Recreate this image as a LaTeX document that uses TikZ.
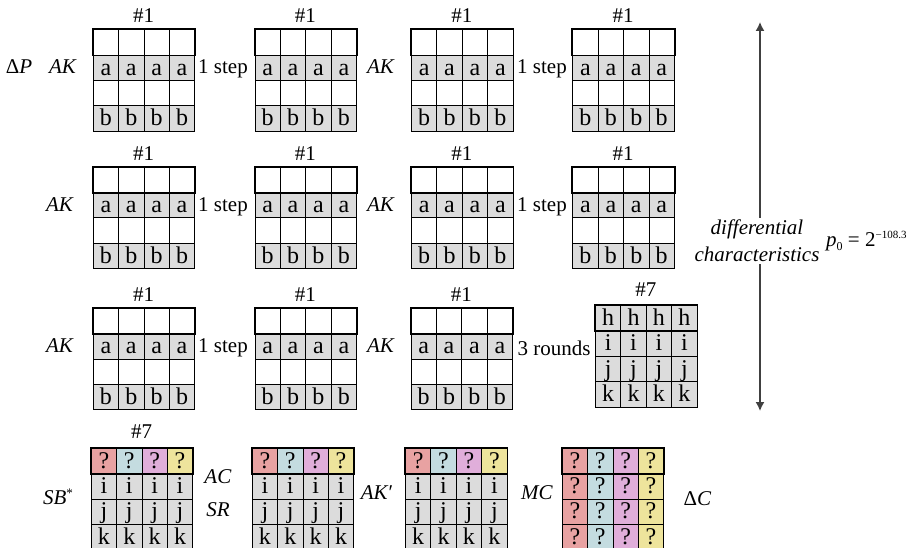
\documentclass[tikz,border=0pt]{standalone}
\usepackage{fontspec}
\setmainfont{Liberation Serif}
\usetikzlibrary{arrows.meta}
\definecolor{grayc}{HTML}{DCDCDC}
\definecolor{redc}{HTML}{E8A2A2}
\definecolor{bluec}{HTML}{C4DCE0}
\definecolor{pinkc}{HTML}{E0AEDA}
\definecolor{yellowc}{HTML}{EEE49C}
\definecolor{arrc}{HTML}{404040}
\tikzset{
  cell/.style={draw=black, line width=0.9pt, minimum width=25.4pt, minimum height=25.4pt,
    inner sep=0pt, anchor=north west, font=\fontsize{24}{24}\selectfont,
    text height=16pt, text depth=1.5pt},
  cw/.style={cell, fill=white},
  cg/.style={cell, fill=grayc},
  lab/.style={font=\fontsize{21}{21}\selectfont, inner sep=0pt},
  toprow/.style={draw=black, line width=1.8pt},
  arr/.style={{Latex[length=9pt,width=9pt]}-{Latex[length=9pt,width=9pt]}, draw=arrc, line width=1.4pt},
}
% grid with empty / a / empty / b rows
\newcommand{\gridAB}[3]{%
  \foreach \c in {0,1,2,3}{%
    \node[cw] (#1-1-\c) at ({#2+25.4*\c},{#3}) {};
    \node[cg] (#1-2-\c) at ({#2+25.4*\c},{#3+25.4}) {a};
    \node[cw] (#1-3-\c) at ({#2+25.4*\c},{#3+50.8}) {};
    \node[cg] (#1-4-\c) at ({#2+25.4*\c},{#3+76.2}) {b};
  }
  \draw[toprow] (#1-1-0.north west) rectangle (#1-1-3.south east);
  \node[lab] (#1-lbl) at ({#2+50.8},{#3-13.5}) {\#1};
}
% grid with h / i / j / k rows
\newcommand{\gridHK}[3]{%
  \foreach \c in {0,1,2,3}{%
    \node[cg] (#1-1-\c) at ({#2+25.4*\c},{#3}) {h};
    \node[cg] (#1-2-\c) at ({#2+25.4*\c},{#3+25.4}) {i};
    \node[cg] (#1-3-\c) at ({#2+25.4*\c},{#3+50.8}) {j};
    \node[cg] (#1-4-\c) at ({#2+25.4*\c},{#3+76.2}) {k};
  }
  \draw[toprow] (#1-1-0.north west) rectangle (#1-1-3.south east);
}
% grid with coloured ? row / i / j / k
\newcommand{\gridQK}[3]{%
  \foreach \c/\col in {0/redc,1/bluec,2/pinkc,3/yellowc}{%
    \node[cell, fill=\col] (#1-1-\c) at ({#2+25.4*\c},{#3}) {?};
    \node[cg] (#1-2-\c) at ({#2+25.4*\c},{#3+25.4}) {i};
    \node[cg] (#1-3-\c) at ({#2+25.4*\c},{#3+50.8}) {j};
    \node[cg] (#1-4-\c) at ({#2+25.4*\c},{#3+76.2}) {k};
  }
  \draw[toprow] (#1-1-0.north west) rectangle (#1-1-3.south east);
}
% grid all ? coloured by column
\newcommand{\gridQQ}[3]{%
  \foreach \c/\col in {0/redc,1/bluec,2/pinkc,3/yellowc}{%
    \foreach \r in {1,2,3,4}{%
      \node[cell, fill=\col] (#1-\r-\c) at ({#2+25.4*\c},{#3+25.4*(\r-1)}) {?};
    }
  }
  \draw[toprow] (#1-1-0.north west) rectangle (#1-1-3.south east);
}
\begin{document}
\begin{tikzpicture}[x=1pt,y=-1pt]
\useasboundingbox (0,0) rectangle (916,548);
% row 1
\gridAB{ga}{92.7}{29.3}
\gridAB{gb}{254.5}{29.3}
\gridAB{gc}{411}{29.3}
\gridAB{gd}{572.3}{29.3}
\node[lab, anchor=base] (dp) at (19,74) {Δ\textit{P}};
\node[lab, anchor=base] (ak1) at (63,74) {\textit{AK}};
\node[lab, anchor=base] (st1) at (223,74) {1 step};
\node[lab, anchor=base] (ak2) at (381,74) {\textit{AK}};
\node[lab, anchor=base] (st2) at (542,74) {1 step};
% row 2
\gridAB{ha}{92.7}{166.7}
\gridAB{hb}{254.5}{166.7}
\gridAB{hc}{411}{166.7}
\gridAB{hd}{572.3}{166.7}
\node[lab, anchor=base] (ak3) at (60,211.5) {\textit{AK}};
\node[lab, anchor=base] (st3) at (223,211.5) {1 step};
\node[lab, anchor=base] (ak4) at (381,211.5) {\textit{AK}};
\node[lab, anchor=base] (st4) at (542,211.5) {1 step};
% row 3
\gridAB{ia}{92.7}{307.7}
\gridAB{ib}{254.5}{307.7}
\gridAB{ic}{410.5}{307.7}
\gridHK{id}{595}{305}
\node[lab] (idlbl) at (645.8,289.5) {\#7};
\node[lab, anchor=base] (ak5) at (60,352.5) {\textit{AK}};
\node[lab, anchor=base] (st5) at (223,352.5) {1 step};
\node[lab, anchor=base] (ak6) at (381,352.5) {\textit{AK}};
\node[lab, anchor=base] (rd) at (554,355) {3 rounds};
% row 4
\gridQK{ja}{90.7}{447.7}
\gridQK{jb}{251.7}{447.7}
\gridQK{jc}{405}{447.7}
\gridQQ{jd}{561.7}{447.7}
\node[lab] (jalbl) at (141.5,432) {\#7};
\node[lab] (sb) at (58,497) {\textit{SB}\raisebox{7pt}{\fontsize{13}{13}\selectfont *}};
\node[lab] (ac) at (218,477) {\textit{AC}};
\node[lab] (sr) at (218,509.5) {\textit{SR}};
\node[lab] (akp) at (377,493) {\textit{AK}′};
\node[lab] (mc) at (537,493) {\textit{MC}};
\node[lab] (dc) at (697.5,498.5) {Δ\textit{C}};
% right side
\coordinate (atop) at (760,22);
\coordinate (abot) at (760,411);
\draw[arr] (atop) -- (abot);
\node[lab, fill=white, inner sep=2pt, align=center, font=\fontsize{21}{27}\selectfont\itshape] (dchar) at (757,241) {differential\\characteristics};
\node[lab, anchor=west] (prob) at (826,241) {\textit{p}\raisebox{-4pt}{\fontsize{12}{12}\selectfont 0} = 2\raisebox{8pt}{\fontsize{11}{11}\selectfont −108.3}};
\end{tikzpicture}
\end{document}
